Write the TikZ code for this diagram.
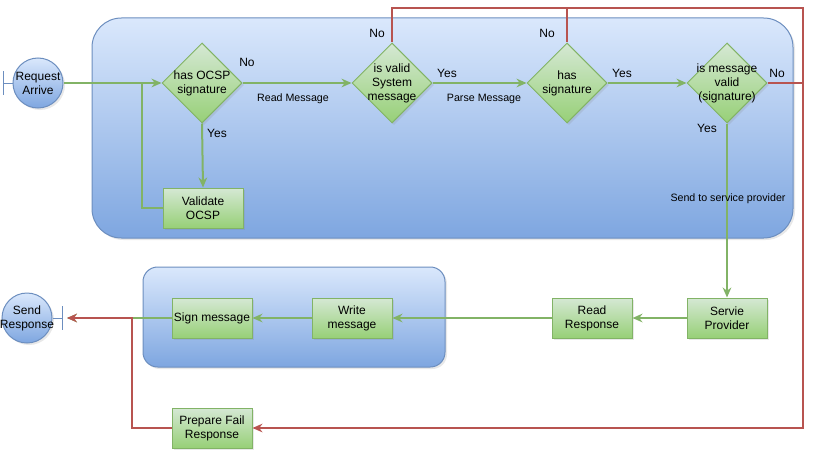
\documentclass[tikz,border=0pt]{standalone}
\usepackage{fontspec}
\setmainfont{Liberation Sans}
\usetikzlibrary{arrows.meta,shapes.geometric,shadows}

\definecolor{grfill}{HTML}{D5E8D4}
\definecolor{grgrad}{HTML}{97D077}
\definecolor{grline}{HTML}{82B366}
\definecolor{blfill}{HTML}{DAE8FC}
\definecolor{blgrad}{HTML}{7EA6E0}
\definecolor{blline}{HTML}{6C8EBF}
\definecolor{rdline}{HTML}{B85450}

\tikzset{every picture/.style={line width=0.75pt}}

\begin{document}
\begin{tikzpicture}[x=0.75pt,y=0.75pt,yscale=-1,xscale=1,
    shade/.style={drop shadow={opacity=0.18,shadow xshift=1.5pt,shadow yshift=-1.5pt}},
    procbox/.style={draw=grline,top color=grfill,bottom color=grgrad,shade,
      minimum width=60pt,minimum height=30pt,inner sep=1pt,align=center,
      font=\fontsize{9}{10.5}\selectfont},
    decision/.style={diamond,draw=grline,top color=grfill,bottom color=grgrad,shade,
      minimum width=60pt,minimum height=60pt,inner sep=0pt},
    event/.style={circle,draw=blline,top color=blfill,bottom color=blgrad,shade,
      minimum size=37.5pt,inner sep=0pt},
    txt/.style={align=center,font=\fontsize{9}{10.5}\selectfont},
    lbl/.style={font=\fontsize{8}{9.5}\selectfont},
    flow/.style={draw=grline,line width=1.5pt,-{Stealth[length=7.5pt,width=6.5pt]}},
    flowline/.style={draw=grline,line width=1.5pt},
    fail/.style={draw=rdline,line width=1.1pt,-{Stealth[length=7.5pt,width=6.5pt]}},
    failline/.style={draw=rdline,line width=1.1pt}]
\useasboundingbox (0,0) rectangle (823,460);

%Rounded Rect [id:container1]
\draw[draw=blline,top color=blfill,bottom color=blgrad,rounded corners=22pt,shade] (92,18) rectangle (793,238);
%Rounded Rect [id:container2]
\draw[draw=blline,top color=blfill,bottom color=blgrad,rounded corners=11pt,shade] (143,267) rectangle (445,367);

%Start and end
\node[event,label={[txt]center:{Request\\Arrive}}] (req) at (38,83) {};
\coordinate (reqbar) at (3,83);
\draw[blline] (reqbar) -- (req.west);
\draw[blline] (reqbar) ++(0,-12) -- ++(0,24);
\node[event,label={[txt]center:{Send\\Response}}] (send) at (27,318) {};
\coordinate (sendbar) at (62,318);
\coordinate (sendtip) at (67,318);
\draw[blline] (send.east) -- (sendbar);
\draw[blline] (sendbar) ++(0,-12) -- ++(0,24);

%Decisions
\node[decision,label={[txt]center:{has OCSP\\signature}}] (ocsp) at (202,83) {};
\node[decision,label={[txt]center:{is valid\\System\\message}}] (sysmsg) at (392,83) {};
\node[decision,label={[txt]center:{has\\signature}}] (hassig) at (567,83) {};
\node[decision,label={[txt]center:{is message\\valid\\(signature)}}] (msgvalid) at (727,83) {};

%Steps
\node[procbox] (valocsp) at (203,208) {Validate\\OCSP};
\node[procbox] (servie) at (727,318) {Servie\\Provider};
\node[procbox] (readresp) at (592,318) {Read\\Response};
\node[procbox] (writemsg) at (352,318) {Write\\message};
\node[procbox] (signmsg) at (212,318) {Sign message};
\node[procbox] (failresp) at (212,428) {Prepare Fail\\Response};

%Green flow
\coordinate (loopjoin) at (142,83);
\draw[flow] (req.east) -- (ocsp.west);
\draw[flowline] (valocsp.west) -| (loopjoin);
\draw[flow] (ocsp.south) -- (valocsp.north);
\draw[flow] (ocsp.east) -- (sysmsg.west);
\draw[flow] (sysmsg.east) -- (hassig.west);
\draw[flow] (hassig.east) -- (msgvalid.west);
\draw[flow] (msgvalid.south) -- (servie.north);
\draw[flow] (servie.west) -- (readresp.east);
\draw[flow] (readresp.west) -- (writemsg.east);
\draw[flow] (writemsg.west) -- (signmsg.east);
\draw[flow] (signmsg.west) -- (sendtip);

%Red flow
\coordinate (rtop) at (803,8);
\coordinate (rbot) at (803,428);
\coordinate (rjoin) at (132,318);
\draw[fail] (sysmsg.north) |- (rtop) -- (rbot) -- (failresp.east);
\draw[failline] (hassig.north) -- (hassig.north |- rtop);
\draw[failline] (msgvalid.east) -- (msgvalid.east -| rtop);
\draw[fail] (failresp.west) -| (rjoin) -- (sendtip);

%Labels
\node[txt] (no1) at (247,62) {No};
\node[txt] (yes1) at (217,133) {Yes};
\node[lbl] (readlbl) at (293,99) {Read Message};
\node[txt] (no2) at (377,33) {No};
\node[txt] (yes2) at (447,73) {Yes};
\node[lbl] (parselbl) at (484,99) {Parse Message};
\node[txt] (no3) at (547,33) {No};
\node[txt] (yes3) at (622,73) {Yes};
\node[txt] (no4) at (777,73) {No};
\node[txt] (yes4) at (707,128) {Yes};
\node[lbl] (sendlbl) at (728,199) {Send to service provider};

\end{tikzpicture}
\end{document}
